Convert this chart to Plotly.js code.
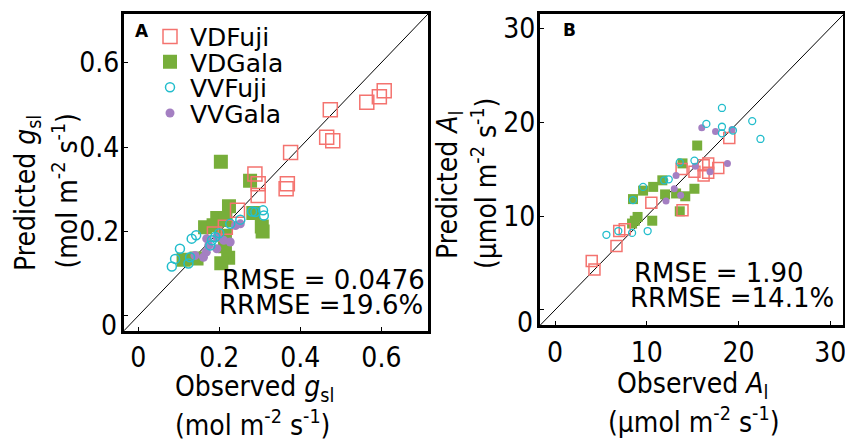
<!DOCTYPE html>
<html>
<head>
<meta charset="utf-8">
<script src="https://cdn.plot.ly/plotly-3.0.1.min.js"></script>
<style>html,body{margin:0;padding:0;background:#fff;}#chart{width:845px;height:441px;}</style>
</head>
<body>
<div id="chart"></div>
<script>
// ---------- Panel A: stomatal conductance g_sl (mol m-2 s-1) ----------
const gsObsVDFuji  = [0.607,0.595,0.564,0.474,0.465,0.480,0.376,0.288,0.296,0.368,0.365,0.296,0.245,0.188,0.215];
const gsPredVDFuji = [0.533,0.519,0.506,0.488,0.423,0.415,0.387,0.336,0.313,0.313,0.301,0.285,0.250,0.194,0.210];
const gsObsVDGala  = [0.204,0.276,0.224,0.195,0.165,0.186,0.214,0.305,0.307,0.284,0.222,0.214,0.205,0.144,0.112,0.215];
const gsPredVDGala = [0.365,0.320,0.260,0.232,0.210,0.215,0.190,0.212,0.200,0.244,0.138,0.165,0.125,0.136,0.133,0.227];
const gsObsVVFuji  = [0.083,0.091,0.103,0.124,0.128,0.132,0.143,0.178,0.182,0.190,0.200,0.227,0.252,0.281,0.289,0.308,0.310];
const gsPredVVFuji = [0.117,0.135,0.159,0.124,0.139,0.183,0.191,0.167,0.179,0.187,0.196,0.218,0.228,0.247,0.246,0.250,0.238];
const gsObsVVGala  = [0.140,0.161,0.168,0.174,0.169,0.194,0.211,0.227,0.240,0.252,0.194];
const gsPredVVGala = [0.143,0.139,0.151,0.167,0.183,0.159,0.179,0.175,0.214,0.218,0.187];
const gsOneToOne   = [-0.05, 0.75];
const gsTicks      = [0, 0.2, 0.4, 0.6];
const gsTickText   = ["0", "0.2", "0.4", "0.6"];

// ---------- Panel B: net photosynthesis A_l (umol m-2 s-1) ----------
const aObsVDFuji  = [19.0,16.7,16.2,17.8,16.7,16.2,15.2,13.8,10.5,13.9,7.6,7.0,6.7,4.0,4.3];
const aPredVDFuji = [18.3,15.6,15.4,15.1,14.6,14.3,14.7,15.0,11.4,10.6,8.6,8.4,6.8,5.2,4.3];
const aObsVDGala  = [15.5,13.9,11.7,10.7,9.6,8.5,12.0,13.2,14.2,15.2,13.6,10.6,9.0,8.7,8.4];
const aPredVDGala = [17.5,15.6,13.8,13.1,12.7,11.8,12.3,12.4,12.1,12.9,10.5,9.5,9.9,9.5,9.2];
const aObsVVFuji  = [18.2,16.5,18.2,18.2,19.4,21.5,22.4,15.2,13.6,12.4,11.9,9.6,8.5,10.1,8.4,6.9,5.6];
const aPredVVFuji = [21.5,19.8,19.5,18.8,19.1,20.1,18.2,15.9,15.7,13.9,13.8,13.1,11.7,8.4,8.2,8.4,8.0];
const aObsVVGala  = [16.0,17.5,19.3,18.8,16.9,15.3,13.2,13.0,13.7,12.1];
const aPredVVGala = [19.4,19.0,19.2,15.6,14.7,15.3,14.3,12.9,12.2,11.6];
const aOneToOne   = [-2, 33];
const aTicks      = [0, 10, 20, 30];
const aTickText   = ["0", "10", "20", "30"];

const groupNames = ["VDFuji", "VDGala", "VVFuji", "VVGala"];

// ---------- styling ----------
const FONT = "DejaVu Sans, Verdana, sans-serif";
const CFONT = "DejaVu Sans Condensed, DejaVu Sans, sans-serif";
const RED = "#f4736f", GREEN = "#77ae3a", CYAN = "#22bdcc", PURPLE = "#a47fc2";
const W = 845, H = 441;
const px = v => v / W;
const py = v => 1 - v / H;

function mk(name, x, y, xa, ya, style, legendId, show) {
  return Object.assign({
    type: "scatter", mode: "markers", name: name, x: x, y: y,
    xaxis: xa, yaxis: ya, showlegend: show, legend: legendId, hoverinfo: "skip"
  }, style);
}
const sA = {
  VDFuji: {marker: {symbol: "square-open", size: 14, color: RED, line: {width: 1.5, color: RED}}},
  VDGala: {marker: {symbol: "square", size: 14, color: GREEN, line: {width: 0}}},
  VVFuji: {marker: {symbol: "circle-open", size: 9, color: CYAN, line: {width: 1.5, color: CYAN}}},
  VVGala: {marker: {symbol: "circle", size: 9, color: PURPLE, line: {width: 0}}}
};
const sB = {
  VDFuji: {marker: {symbol: "square-open", size: 11, color: RED, line: {width: 1.5, color: RED}}},
  VDGala: {marker: {symbol: "square", size: 10, color: GREEN, line: {width: 0}}},
  VVFuji: {marker: {symbol: "circle-open", size: 7, color: CYAN, line: {width: 1.3, color: CYAN}}},
  VVGala: {marker: {symbol: "circle", size: 7, color: PURPLE, line: {width: 0}}}
};

const data = [
  {type: "scatter", mode: "lines", x: gsOneToOne, y: gsOneToOne, xaxis: "x", yaxis: "y",
   line: {color: "#000", width: 1}, showlegend: false, hoverinfo: "skip"},
  {type: "scatter", mode: "lines", x: aOneToOne, y: aOneToOne, xaxis: "x2", yaxis: "y2",
   line: {color: "#000", width: 1}, showlegend: false, hoverinfo: "skip"},
  mk(groupNames[1], gsObsVDGala, gsPredVDGala, "x", "y", sA.VDGala, "legend2", true),
  mk(groupNames[0], gsObsVDFuji, gsPredVDFuji, "x", "y", sA.VDFuji, "legend", true),
  mk(groupNames[3], gsObsVVGala, gsPredVVGala, "x", "y", sA.VVGala, "legend4", true),
  mk(groupNames[2], gsObsVVFuji, gsPredVVFuji, "x", "y", sA.VVFuji, "legend3", true),
  mk(groupNames[1], aObsVDGala, aPredVDGala, "x2", "y2", sB.VDGala, "legend2", false),
  mk(groupNames[0], aObsVDFuji, aPredVDFuji, "x2", "y2", sB.VDFuji, "legend", false),
  mk(groupNames[3], aObsVVGala, aPredVVGala, "x2", "y2", sB.VVGala, "legend4", false),
  mk(groupNames[2], aObsVVFuji, aPredVVFuji, "x2", "y2", sB.VVFuji, "legend3", false)
];

const axBase = {
  showgrid: false, zeroline: false, showline: true, mirror: true,
  linecolor: "#000", linewidth: 3, ticks: "inside", ticklen: 4, tickwidth: 1, tickcolor: "#000",
  tickfont: {family: CFONT, size: 28, color: "#000"}, tickmode: "array", fixedrange: true,
  ticklabeloverflow: "allow"
};

function legendAt(yPix) {
  return {x: px(150), y: py(yPix), xanchor: "left", yanchor: "middle",
    bgcolor: "rgba(0,0,0,0)", borderwidth: 0,
    font: {family: FONT, size: 25, color: "#000"}};
}

const tf = {family: CFONT, size: 28, color: "#000"};
const rf = {family: FONT, size: 26, color: "#000"};
const ann = (text, x, y, o) => Object.assign({text: text, xref: "paper", yref: "paper",
  x: px(x), y: py(y), showarrow: false, font: tf, xanchor: "center", yanchor: "middle"}, o || {});

// y-axis zero labels sit slightly below their tick in the reference
const gsYTickText = gsTickText.map((t, i) => gsTicks[i] === 0 ? "" : t);
const aYTickText  = aTickText.map((t, i) => aTicks[i] === 0 ? "" : t);

const layout = {
  width: W, height: H, margin: {l: 0, r: 0, t: 0, b: 0},
  paper_bgcolor: "#fff", plot_bgcolor: "#fff",
  font: {family: FONT, color: "#000"},
  xaxis: Object.assign({}, axBase, {domain: [px(124), px(428)], range: [-0.035, 0.715],
    tickvals: gsTicks, ticktext: gsTickText, anchor: "y"}),
  yaxis: Object.assign({}, axBase, {domain: [py(330.7), py(14)], range: [-0.035, 0.715],
    tickvals: gsTicks, ticktext: gsYTickText, anchor: "x", ticklabelstandoff: -4}),
  xaxis2: Object.assign({}, axBase, {domain: [px(540), px(843)], range: [-1.64, 31.4],
    tickvals: aTicks, ticktext: aTickText, anchor: "y2"}),
  yaxis2: Object.assign({}, axBase, {domain: [py(325), py(14)], range: [-1.6, 31.5],
    tickvals: aTicks, ticktext: aYTickText, anchor: "x2", ticklabelstandoff: -4}),
  legend: legendAt(36.7),
  legend2: legendAt(62),
  legend3: legendAt(87.5),
  legend4: legendAt(113.3),
  annotations: [
    ann("<b>A</b>", 141.5, 31, {font: {family: FONT, size: 17, color: "#000"}}),
    ann("<b>B</b>", 569, 30, {font: {family: FONT, size: 17, color: "#000"}}),
    ann(gsTickText[0], 119, 325, {xanchor: "right"}),
    ann(aTickText[0], 535, 322, {xanchor: "right"}),
    ann("RMSE = 0.0476", 220, 280, {xanchor: "left", font: rf}),
    ann("RRMSE =19.6%", 216.7, 305, {xanchor: "left", font: rf}),
    ann("RMSE = 1.90", 631.7, 272.7, {xanchor: "left", font: rf}),
    ann("RRMSE =14.1%", 628, 298, {xanchor: "left", font: rf}),
    // panel A axis titles
    ann("Observed <i>g</i><sub>sl</sub>", 173, 388, {xanchor: "left"}),
    ann("(mol m<sup>-2</sup> s<sup>-1</sup>)", 173, 423, {xanchor: "left"}),
    ann("Predicted <i>g</i><sub>sl</sub>", 27, 273, {textangle: -90, yanchor: "bottom"}),
    ann("(mol m<sup>-2</sup> s<sup>-1</sup>)", 66, 271, {textangle: -90, yanchor: "bottom"}),
    // panel B axis titles
    ann("Observed <i>A</i><sub>l</sub>", 692, 385),
    ann("(μmol m<sup>-2</sup> s<sup>-1</sup>)", 693, 420),
    ann("Predicted <i>A</i><sub>l</sub>", 449, 185, {textangle: -90}),
    ann("(μmol m<sup>-2</sup> s<sup>-1</sup>)", 485, 184, {textangle: -90})
  ]
};

Plotly.newPlot("chart", data, layout, {displayModeBar: false, staticPlot: true});
</script>
</body>
</html>
